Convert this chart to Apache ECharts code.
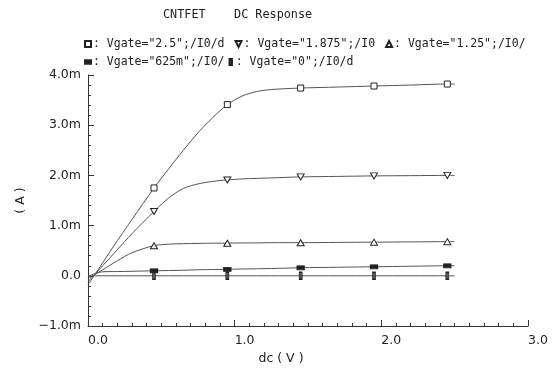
<!DOCTYPE html>
<html>
<head>
<meta charset="utf-8">
<script src="https://cdn.jsdelivr.net/npm/echarts@6/dist/echarts.min.js"></script>
<style>
  html, body { margin: 0; padding: 0; background: #fff; }
  #chart { width: 554px; height: 371px; }
</style>
</head>
<body>
<div id="chart"></div>
<script>
// sweep voltage (V) and drain current (mA) per gate voltage
const dcVoltage    = [0, 0.05, 0.1, 0.2, 0.3, 0.45, 0.55, 0.65, 0.75, 0.85, 0.95, 1.05, 1.15, 1.25, 1.45, 1.7, 1.95, 2.2, 2.45, 2.5];
const idVgate2p5   = [-0.18, 0.04, 0.26, 0.70, 1.12, 1.75, 2.13, 2.50, 2.85, 3.15, 3.41, 3.58, 3.67, 3.71, 3.74, 3.76, 3.78, 3.80, 3.82, 3.82];
const idVgate1p875 = [-0.12, 0.04, 0.20, 0.52, 0.84, 1.28, 1.55, 1.74, 1.83, 1.88, 1.91, 1.93, 1.94, 1.95, 1.97, 1.98, 1.99, 1.995, 2.0, 2.0];
const idVgate1p25  = [-0.06, 0.03, 0.12, 0.30, 0.46, 0.60, 0.63, 0.64, 0.645, 0.65, 0.65, 0.655, 0.655, 0.66, 0.66, 0.665, 0.67, 0.675, 0.68, 0.68];
const idVgate625m  = [-0.02, 0.05, 0.08, 0.085, 0.09, 0.10, 0.105, 0.11, 0.12, 0.125, 0.13, 0.135, 0.14, 0.145, 0.16, 0.17, 0.18, 0.19, 0.20, 0.20];
const idVgate0     = [0, 0, 0, 0, 0, 0, 0, 0, 0, 0, 0, 0, 0, 0, 0, 0, 0, 0, 0, 0];
const markerVoltage = [0.45, 0.95, 1.45, 1.95, 2.45];
const seriesNames = [
    'Vgate="2.5";/I0/d',
    'Vgate="1.875";/I0',
    'Vgate="1.25";/I0/',
    'Vgate="625m";/I0/',
    'Vgate="0";/I0/d'
];

const FONT = 'DejaVu Sans';
const MONO = 'DejaVu Sans Mono';
const downTri = 'path://M0,0L10,0L5,10Z';

// 标记样式
const markers = [
    { symbol: 'rect', size: 6, fill: '#fff', icon: 'rect' },
    { symbol: downTri, size: [7, 6], fill: '#fff', icon: downTri },
    { symbol: 'triangle', size: [7, 6], fill: '#fff', icon: 'triangle' },
    { symbol: 'rect', size: [7, 4], fill: '#222', icon: 'path://M0,2L10,2L10,8L0,8Z' },
    { symbol: 'rect', size: [3, 7], fill: '#555', icon: 'path://M3,0L7,0L7,10L3,10Z' }
];
const allCurrents = [idVgate2p5, idVgate1p875, idVgate1p25, idVgate625m, idVgate0];

const buildData = ys => dcVoltage.map((x, i) => {
    const isMark = markerVoltage.includes(x);
    return isMark ? { value: [x, ys[i]] } : { value: [x, ys[i]], symbol: 'none' };
});

const series = allCurrents.map((ys, k) => ({
    name: seriesNames[k],
    type: 'line',
    data: buildData(ys),
    symbol: markers[k].symbol,
    symbolSize: markers[k].size,
    showAllSymbol: true,
    smooth: 0.3,
    lineStyle: { color: '#555', width: 1 },
    itemStyle: { color: markers[k].fill, borderColor: '#222', borderWidth: 1 },
    emphasis: { disabled: true },
    z: 2 + k
}));

const legendRow = (idx, top, gap) => ({
    data: idx.map(k => ({ name: seriesNames[k], icon: markers[k].icon })),
    left: 84,
    top: top,
    padding: 0,
    itemGap: gap,
    itemWidth: 6,
    itemHeight: 6,
    selectedMode: false,
    formatter: name => ': ' + name,
    textStyle: { fontFamily: MONO, fontSize: 11.5, color: '#222', padding: [0, 0, 0, -3] }
});

const fmtY = v => {
    if (v === 0) return '0.0';
    return (v < 0 ? '\u2212' : '') + Math.abs(v).toFixed(1) + 'm';
};

const option = {
    animation: false,
    backgroundColor: '#fff',
    title: {
        text: 'CNTFET    DC Response',
        left: 163,
        top: 9,
        padding: 0,
        textStyle: { fontFamily: MONO, fontSize: 11.8, fontWeight: 'normal', color: '#222' }
    },
    legend: [legendRow([0, 1, 2], 38, 10), legendRow([3, 4], 56, 4)],
    grid: { left: 88, right: 26, top: 75, bottom: 45 },
    xAxis: {
        type: 'value',
        min: 0,
        max: 3,
        interval: 1,
        name: 'dc ( V )',
        nameLocation: 'middle',
        nameGap: 18,
        nameTextStyle: { fontFamily: FONT, fontSize: 12.5, color: '#222', padding: [0, 54, 0, 0] },
        axisLine: { onZero: false, lineStyle: { color: '#333', width: 1 } },
        axisTick: { inside: true, length: 6, lineStyle: { color: '#333' } },
        minorTick: { show: true, splitNumber: 10, length: 3, lineStyle: { color: '#333' } },
        splitLine: { show: false },
        axisLabel: {
            formatter: v => v.toFixed(1),
            align: 'left',
            margin: 8,
            fontFamily: FONT,
            fontSize: 12.5,
            color: '#222'
        }
    },
    yAxis: {
        type: 'value',
        min: -1,
        max: 4,
        interval: 1,
        name: '( A )',
        nameLocation: 'middle',
        nameGap: 60,
        nameTextStyle: { fontFamily: FONT, fontSize: 12.5, color: '#222' },
        axisLine: { show: true, onZero: false, lineStyle: { color: '#333', width: 1 } },
        axisTick: { inside: true, length: 6, lineStyle: { color: '#333' } },
        minorTick: { show: true, splitNumber: 5, length: 3, lineStyle: { color: '#333' } },
        splitLine: { show: false },
        axisLabel: {
            formatter: fmtY,
            margin: 7,
            padding: [0, 0, 7, 0],
            fontFamily: FONT,
            fontSize: 12.5,
            color: '#222'
        }
    },
    series: series
};

const chart = echarts.init(document.getElementById('chart'), null, { renderer: 'canvas' });
chart.setOption(option);
</script>
</body>
</html>
